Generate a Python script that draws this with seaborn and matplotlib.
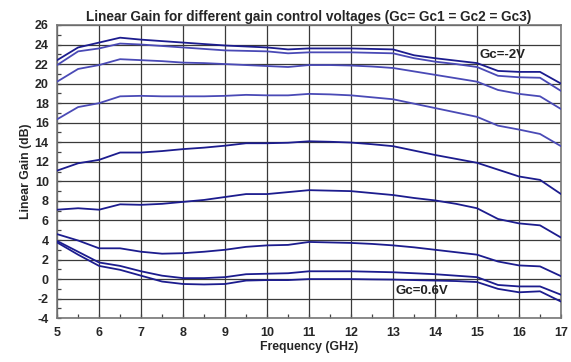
import numpy as np
import pandas as pd
import matplotlib
matplotlib.use('Agg')
import matplotlib.pyplot as plt
import seaborn as sns

# frequencies sampled every 0.5 GHz
freq = [5, 5.5, 6, 6.5, 7, 7.5, 8, 8.5, 9, 9.5, 10, 10.5, 11, 11.5, 12, 12.5,
        13, 13.5, 14, 14.5, 15, 15.5, 16, 16.5, 17]

g1 = [22.4, 23.7, 24.2, 24.7, 24.5, 24.35, 24.2, 24.05, 23.9, 23.8, 23.7, 23.5,
      23.6, 23.6, 23.6, 23.55, 23.5, 22.9, 22.6, 22.35, 22.1, 21.3, 21.2, 21.2, 20.0]
g2 = [21.9, 23.3, 23.6, 24.1, 24.0, 23.85, 23.7, 23.55, 23.4, 23.35, 23.3, 23.1,
      23.2, 23.2, 23.2, 23.15, 23.1, 22.6, 22.25, 22.0, 21.7, 20.8, 20.65, 20.6, 19.25]
g3 = [20.2, 21.5, 21.9, 22.5, 22.4, 22.3, 22.15, 22.1, 22.0, 21.9, 21.8, 21.7,
      21.9, 21.9, 21.85, 21.75, 21.6, 21.25, 20.9, 20.55, 20.2, 19.35, 18.95, 18.7, 17.4]
g4 = [16.35, 17.6, 18.0, 18.7, 18.75, 18.7, 18.7, 18.7, 18.75, 18.85, 18.8, 18.8,
      18.95, 18.9, 18.8, 18.6, 18.4, 17.95, 17.5, 17.05, 16.6, 15.7, 15.3, 14.85, 13.6]
g5 = [11.1, 11.85, 12.2, 12.95, 12.95, 13.1, 13.3, 13.45, 13.65, 13.9, 13.9, 13.95,
      14.1, 14.05, 13.97, 13.8, 13.6, 13.15, 12.7, 12.3, 11.9, 11.2, 10.5, 10.15, 8.7]
g6 = [7.1, 7.25, 7.1, 7.65, 7.6, 7.7, 7.9, 8.1, 8.4, 8.7, 8.7, 8.9,
      9.1, 9.05, 9.0, 8.8, 8.6, 8.3, 8.05, 7.7, 7.25, 6.15, 5.7, 5.5, 4.25]
g7 = [4.6, 3.95, 3.15, 3.15, 2.8, 2.6, 2.65, 2.8, 3.0, 3.3, 3.45, 3.5,
      3.8, 3.75, 3.7, 3.6, 3.45, 3.25, 3.0, 2.75, 2.5, 1.8, 1.4, 1.3, 0.3]
g8 = [3.9, 2.8, 1.7, 1.35, 0.8, 0.35, 0.1, 0.1, 0.2, 0.5, 0.55, 0.6,
      0.8, 0.8, 0.8, 0.75, 0.7, 0.6, 0.5, 0.35, 0.2, -0.6, -0.75, -0.75, -1.6]
g9 = [3.75, 2.5, 1.35, 0.95, 0.35, -0.25, -0.5, -0.55, -0.5, -0.15, -0.1, -0.1,
      0.0, 0.0, 0.0, -0.03, -0.05, -0.1, -0.15, -0.2, -0.3, -1.0, -1.35, -1.25, -2.3]

curves = {'c1': g1, 'c2': g2, 'c3': g3, 'c4': g4, 'c5': g5,
          'c6': g6, 'c7': g7, 'c8': g8, 'c9': g9}
dark = '#1c1c8e'
light = '#4a4ab6'
palette = {'c1': dark, 'c2': light, 'c3': light, 'c4': light, 'c5': dark,
           'c6': dark, 'c7': dark, 'c8': dark, 'c9': dark}

df = pd.concat([pd.DataFrame({'Frequency': freq, 'Gain': v, 'curve': k})
                for k, v in curves.items()], ignore_index=True)

sns.set_style('white')
plt.rcParams['font.family'] = ['Liberation Sans', 'DejaVu Sans']
plt.rcParams['axes.unicode_minus'] = False

fig = plt.figure(figsize=(5.71, 3.62), dpi=100)
ax = fig.add_axes([0.1, 0.121, 0.8825, 0.81])

sns.lineplot(data=df, x='Frequency', y='Gain', hue='curve', palette=palette,
             linewidth=1.3, legend=False, ax=ax, zorder=3)

ax.set_xlim(5, 17)
ax.set_ylim(-4, 26)
ax.set_xticks(range(5, 18))
ax.set_yticks(range(-4, 27, 2))
ax.set_xticks(np.arange(5, 17.01, 0.5), minor=True)
ax.set_yticks(range(-4, 27, 1), minor=True)
ax.grid(True, which='major', color='#3a3a3a', linewidth=0.9)
ax.tick_params(which='both', direction='in', length=3, width=0.9, color='#444444',
               labelsize=9, bottom=True, left=True)
ax.tick_params(which='major', pad=6)
for lbl in ax.get_xticklabels() + ax.get_yticklabels():
    lbl.set_fontweight('bold')
for s in ax.spines.values():
    s.set_color('#777777')
    s.set_linewidth(1.2)

ax.set_title('Linear Gain for different gain control voltages (Gc= Gc1 = Gc2 = Gc3)',
             fontsize=9.8, fontweight='bold', pad=3)
ax.set_xlabel('Frequency (GHz)', fontsize=8.8, fontweight='bold', labelpad=2)
ax.set_ylabel('Linear Gain (dB)', fontsize=8.8, fontweight='bold', labelpad=2)

ax.text(15.05, 22.9, 'Gc=-2V', fontsize=9.5, fontweight='bold', va='center', ha='left',
        color='#222222', zorder=4)
ax.text(13.05, -1.25, 'Gc=0.6V', fontsize=9.5, fontweight='bold', va='center', ha='left',
        color='#222222', zorder=4)

fig.savefig('out.png', dpi=100)
